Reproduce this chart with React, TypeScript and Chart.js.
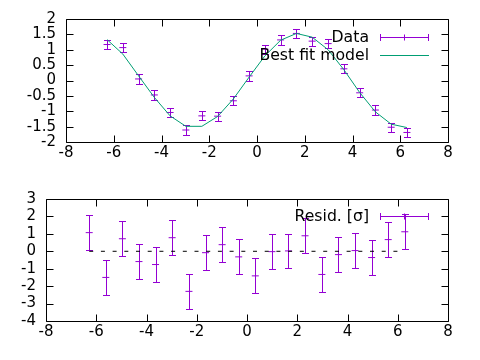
import React, { useEffect, useRef } from "react";
import { Chart, registerables } from "chart.js";

Chart.register(...registerables);

// ---------- data ----------
const xValues = [-6.28, -5.62, -4.96, -4.3, -3.64, -2.98, -2.31, -1.65, -0.99, -0.33, 0.33, 0.99, 1.65, 2.31, 2.98, 3.64, 4.3, 4.96, 5.62, 6.28];
const dataValues = [1.17, 1.07, 0.05, -0.47, -1.04, -1.61, -1.15, -1.16, -0.66, 0.15, 1.02, 1.32, 1.53, 1.28, 1.2, 0.38, -0.4, -0.96, -1.52, -1.69];
const dataErrors = [0.15, 0.15, 0.15, 0.15, 0.15, 0.15, 0.15, 0.15, 0.15, 0.15, 0.15, 0.15, 0.15, 0.15, 0.15, 0.15, 0.15, 0.15, 0.15, 0.15];
const modelValues = [1.33, 0.86, 0.15, -0.55, -1.15, -1.49, -1.49, -1.17, -0.6, 0.11, 0.8, 1.31, 1.53, 1.41, 1.0, 0.35, -0.39, -1.02, -1.42, -1.53];
const residualValues = [1.07, -1.5, 0.72, -0.59, -0.76, 0.78, -2.3, -0.08, 0.38, -0.32, -1.41, -0.02, 0.02, 0.89, -1.33, -0.19, 0.04, -0.36, 0.67, 1.12];
const residualErrors = [1, 1, 1, 1, 1, 1, 1, 1, 1, 1, 1, 1, 1, 1, 1, 1, 1, 1, 1, 1];
const zeroLevel = 0;

const xTickRange = { min: -8, max: 8, step: 2 };
const topYRange = { min: -2, max: 2, step: 0.5 };
const bottomYRange = { min: -4, max: 3, step: 1 };

const topKeyLabels = ["Data", "Best fit model"];
const bottomKeyLabels = ["Resid. [\u03c3]"];

// ---------- styles ----------
const PURPLE = "#9400d3";
const TEAL = "#009e73";
const FONT_FAMILY = "'DejaVu Sans', sans-serif";
const FONT_SIZE = 15;
const KEY_FONT_SIZE = 15.7;

// ---------- plugins ----------
const errorBarPlugin = {
  id: "errorBars",
  afterDatasetDraw(chart: any, args: any) {
    const ds = chart.data.datasets[args.index];
    if (!ds.errors) return;
    const ctx = chart.ctx;
    const xs = chart.scales.x;
    const ys = chart.scales.y;
    ctx.save();
    ctx.strokeStyle = ds.borderColor;
    ctx.lineWidth = 1;
    ds.data.forEach((p: any, i: number) => {
      const e = ds.errors[i];
      const px = Math.round(xs.getPixelForValue(p.x)) + 0.5;
      const y1 = Math.round(ys.getPixelForValue(p.y + e)) + 0.5;
      const y2 = Math.round(ys.getPixelForValue(p.y - e)) + 0.5;
      ctx.beginPath();
      ctx.moveTo(px, y1);
      ctx.lineTo(px, y2);
      ctx.moveTo(px - 3.5, y1);
      ctx.lineTo(px + 3.5, y1);
      ctx.moveTo(px - 3.5, y2);
      ctx.lineTo(px + 3.5, y2);
      ctx.stroke();
    });
    ctx.restore();
  },
};

const framePlugin = {
  id: "frame",
  afterDraw(chart: any) {
    const ctx = chart.ctx;
    const { left, right, top, bottom } = chart.chartArea;
    const xs = chart.scales.x;
    const ys = chart.scales.y;
    ctx.save();
    ctx.strokeStyle = "#000";
    ctx.lineWidth = 1;
    ctx.beginPath();
    const L = Math.round(left) + 0.5;
    const R = Math.round(right) + 0.5;
    const T = Math.round(top) + 0.5;
    const B = Math.round(bottom) + 0.5;
    ctx.rect(L, T, R - L, B - T);
    xs.ticks.forEach((t: any) => {
      const px = Math.round(xs.getPixelForValue(t.value)) + 0.5;
      ctx.moveTo(px, B);
      ctx.lineTo(px, B - 7);
      ctx.moveTo(px, T);
      ctx.lineTo(px, T + 7);
    });
    ys.ticks.forEach((t: any) => {
      const py = Math.round(ys.getPixelForValue(t.value)) + 0.5;
      ctx.moveTo(L, py);
      ctx.lineTo(L + 7, py);
      ctx.moveTo(R, py);
      ctx.lineTo(R - 7, py);
    });
    ctx.stroke();
    ctx.restore();
  },
};

type KeyItem = { label: string; color: string; kind: "errbar" | "line"; y: number };

function makeKeyPlugin(items: KeyItem[]) {
  return {
    id: "gnuKey",
    afterDraw(chart: any) {
      const ctx = chart.ctx;
      ctx.save();
      ctx.font = `${KEY_FONT_SIZE}px ${FONT_FAMILY}`;
      ctx.textAlign = "right";
      ctx.textBaseline = "middle";
      items.forEach((it) => {
        ctx.fillStyle = "#000";
        ctx.fillText(it.label, 369, it.y + 1);
        const sy = Math.round(it.y) + 0.5;
        ctx.strokeStyle = it.color;
        ctx.lineWidth = 1;
        ctx.beginPath();
        ctx.moveTo(380, sy);
        ctx.lineTo(429, sy);
        if (it.kind === "errbar") {
          ctx.moveTo(380.5, sy - 3.5);
          ctx.lineTo(380.5, sy + 3.5);
          ctx.moveTo(428.5, sy - 3.5);
          ctx.lineTo(428.5, sy + 3.5);
          ctx.moveTo(404.5, sy - 3);
          ctx.lineTo(404.5, sy + 3);
        }
        ctx.stroke();
      });
      ctx.restore();
    },
  };
}

function axisOptions(yr: { min: number; max: number; step: number }, yWidth: number, xHeight: number) {
  const font = { family: FONT_FAMILY, size: FONT_SIZE };
  return {
    x: {
      type: "linear",
      min: xTickRange.min,
      max: xTickRange.max,
      grid: { display: false, drawTicks: false },
      border: { display: false },
      ticks: { stepSize: xTickRange.step, color: "#000", font, padding: 2, maxRotation: 0, autoSkip: false },
      afterFit(scale: any) {
        scale.height = xHeight;
      },
    },
    y: {
      type: "linear",
      min: yr.min,
      max: yr.max,
      grid: { display: false, drawTicks: false },
      border: { display: false },
      ticks: {
        stepSize: yr.step,
        color: "#000",
        font,
        padding: 10,
        autoSkip: false,
        callback: (v: any) => String(v),
      },
      afterFit(scale: any) {
        scale.width = yWidth;
      },
    },
  };
}

function TopChart() {
  const ref = useRef<HTMLCanvasElement>(null);
  useEffect(() => {
    const chart = new Chart(ref.current as HTMLCanvasElement, {
      type: "scatter",
      data: {
        datasets: [
          {
            label: topKeyLabels[1],
            data: xValues.map((x, i) => ({ x, y: modelValues[i] })),
            showLine: true,
            borderColor: TEAL,
            borderWidth: 1,
            pointRadius: 0,
            tension: 0,
          },
          {
            label: topKeyLabels[0],
            data: xValues.map((x, i) => ({ x, y: dataValues[i] })),
            errors: dataErrors,
            showLine: false,
            borderColor: PURPLE,
            backgroundColor: PURPLE,
            borderWidth: 1,
            pointStyle: "line",
            pointRadius: 3.5,
          } as any,
        ],
      },
      options: {
        responsive: false,
        animation: false,
        events: [],
        layout: { padding: { top: 19, right: 32, left: 0, bottom: 0 } },
        plugins: { legend: { display: false }, tooltip: { enabled: false } },
        scales: axisOptions(topYRange, 66, 38) as any,
      },
      plugins: [
        errorBarPlugin,
        framePlugin,
        makeKeyPlugin([
          { label: topKeyLabels[0], color: PURPLE, kind: "errbar", y: 36.5 },
          { label: topKeyLabels[1], color: TEAL, kind: "line", y: 55 },
        ]),
      ],
    });
    return () => chart.destroy();
  }, []);
  return <canvas ref={ref} width={480} height={180} style={{ display: "block", width: 480, height: 180 }} />;
}

function BottomChart() {
  const ref = useRef<HTMLCanvasElement>(null);
  useEffect(() => {
    const chart = new Chart(ref.current as HTMLCanvasElement, {
      type: "scatter",
      data: {
        datasets: [
          {
            label: "zero",
            data: [
              { x: xValues[0], y: zeroLevel },
              { x: xValues[xValues.length - 1], y: zeroLevel },
            ],
            showLine: true,
            borderColor: "#000",
            borderWidth: 1,
            borderDash: [4, 7.7],
            pointRadius: 0,
          },
          {
            label: bottomKeyLabels[0],
            data: xValues.map((x, i) => ({ x, y: residualValues[i] })),
            errors: residualErrors,
            showLine: false,
            borderColor: PURPLE,
            backgroundColor: PURPLE,
            borderWidth: 1,
            pointStyle: "line",
            pointRadius: 3.5,
          } as any,
        ],
      },
      options: {
        responsive: false,
        animation: false,
        events: [],
        layout: { padding: { top: 18, right: 32, left: 0, bottom: 0 } },
        plugins: { legend: { display: false }, tooltip: { enabled: false } },
        scales: axisOptions(bottomYRange, 46, 39) as any,
      },
      plugins: [
        errorBarPlugin,
        framePlugin,
        makeKeyPlugin([{ label: bottomKeyLabels[0], color: PURPLE, kind: "errbar", y: 35.5 }]),
      ],
    });
    return () => chart.destroy();
  }, []);
  return <canvas ref={ref} width={480} height={180} style={{ display: "block", width: 480, height: 180 }} />;
}

export default function App() {
  return (
    <div style={{ position: "absolute", left: 0, top: 0, width: 480, height: 360, background: "#fff" }}>
      <TopChart />
      <BottomChart />
    </div>
  );
}
